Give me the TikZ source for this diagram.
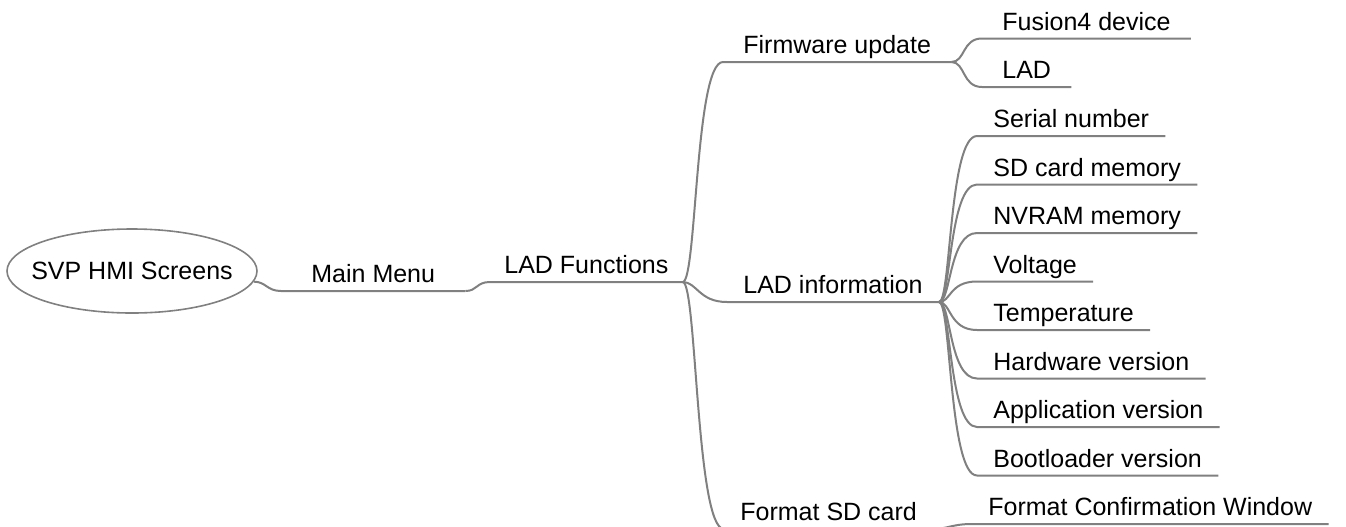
\documentclass[tikz,border=0pt]{standalone}
\usepackage{fontspec}
\setmainfont{Liberation Sans}
\usetikzlibrary{shapes.geometric}
\definecolor{linegray}{HTML}{808080}

\begin{document}
\begin{tikzpicture}[x=0.5pt, y=-0.5pt,
	topic/.style={anchor=south west, inner xsep=8pt, inner ysep=4pt, text depth=0pt, font=\fontsize{12.5}{15}\selectfont},
	branch/.style={draw=linegray, line width=1pt},
	root/.style={ellipse, draw=linegray, line width=0.8pt, minimum width=125pt, minimum height=42pt, inner xsep=-8pt, inner ysep=0pt, font=\fontsize{12.5}{15}\selectfont}]

	\useasboundingbox (0,0) rectangle (1346,526);

	% central topic
	\node [root] (root) at (132,271) {SVP HMI Screens};

	% main branches
	\node [topic, inner xsep=15pt] (menu) at (281,291) {Main Menu};
	\node [topic, inner xsep=7pt] (functions) at (490,282) {LAD Functions};

	% functions
	\node [topic, inner xsep=10pt] (firmware) at (723,62) {Firmware update};
	\node [topic] (info) at (727,302) {LAD information};
	\node [topic] (format) at (724,529) {Format SD card};

	% firmware targets
	\foreach \l [count=\i] in {Fusion4 device, LAD}
		\node [topic, inner xsep=10pt] (firmware-\i) at (982,-10+\i*48.5) {\l};

	% info items
	\foreach \l [count=\i] in {Serial number, SD card memory, NVRAM memory, Voltage, Temperature, Hardware version, Application version, Bootloader version}
		\node [topic] (info-\i) at (977,87.5+\i*48.5) {\l};

	% format items
	\node [topic] (confirm) at (972,524) {Format Confirmation Window};

	% lines from root to functions
	\draw [branch] (root.-5) .. controls +(12,0) and +(-14,0) .. (menu.south west) -- (menu.south east);
	\draw [branch] (menu.south east) .. controls +(12,0) and +(-14,0) .. (functions.south west) -- (functions.south east);

	% lines from functions
	\foreach \n in {firmware, info, format}
		\draw [branch] (functions.south east) .. controls +(14,0) and +(-28,0) .. (\n.south west) -- (\n.south east);

	% lines to leaves
	\foreach \i in {1,2}
		\draw [branch] (firmware.south east) .. controls +(14,0) and +(-20,0) .. (firmware-\i.south west) -- (firmware-\i.south east);
	\foreach \i in {1,...,8}
		\draw [branch] (info.south east) .. controls +(12,0) and +(-28,0) .. (info-\i.south west) -- (info-\i.south east);
	\draw [branch] (format.south east) .. controls +(14,0) and +(-20,0) .. (confirm.south west) -- (confirm.south east);

\end{tikzpicture}
\end{document}
